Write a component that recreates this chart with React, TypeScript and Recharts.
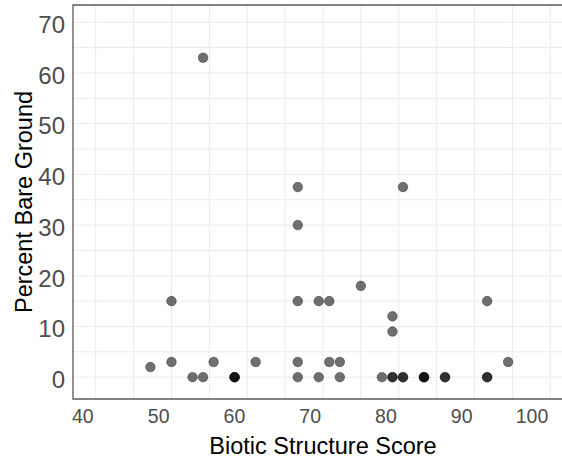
import React from "react";
import {
  ScatterChart,
  Scatter,
  XAxis,
  YAxis,
  CartesianGrid,
  ReferenceArea,
} from "recharts";

// Biotic Structure Score (x) and Percent Bare Ground (y), one entry per plotted point
const scoreValues = [
  47.22, 50.0, 50.0, 52.78, 54.17, 54.17, 55.56, 58.33, 58.33, 58.33, 61.11,
  66.67, 66.67, 66.67, 66.67, 66.67, 69.44, 69.44, 70.83, 70.83, 72.22, 72.22,
  75.0, 77.78, 79.17, 79.17, 79.17, 79.17, 80.56, 80.56, 80.56, 83.33, 83.33,
  83.33, 86.11, 86.11, 91.67, 91.67, 91.67, 94.44,
];
const bareGroundValues = [
  2, 15, 3, 0, 0, 63, 3, 0, 0, 0, 3,
  37.5, 30, 15, 3, 0, 15, 0, 15, 3, 3, 0,
  18, 0, 12, 9, 0, 0, 37.5, 0, 0, 0, 0,
  0, 0, 0, 15, 0, 0, 3,
];

const xTicks = [40, 50, 60, 70, 80, 90, 100];
const yTicks = [0, 10, 20, 30, 40, 50, 60, 70];
const xGrid = [40, 45, 50, 55, 60, 65, 70, 75, 80, 85, 90, 95, 100];
const yGrid = [0, 5, 10, 15, 20, 25, 30, 35, 40, 45, 50, 55, 60, 65, 70];

const xTitle = "Biotic Structure Score";
const yTitle = "Percent Bare Ground";

const data = scoreValues.map((x, i) => ({ x, y: bareGroundValues[i] }));

const FONT = "'Liberation Sans', Arial, Helvetica, sans-serif";

const XTick = (props: any) => {
  const { x, payload } = props;
  return (
    <text
      x={x - 2}
      y={423}
      textAnchor="end"
      fontSize={19.5}
      fontFamily={FONT}
      fill="#4d4d4d"
    >
      {payload.value}
    </text>
  );
};

const YTick = (props: any) => {
  const { y, payload } = props;
  return (
    <text
      x={65}
      y={y + 10.8}
      textAnchor="end"
      fontSize={24}
      fontFamily={FONT}
      fill="#4d4d4d"
    >
      {payload.value}
    </text>
  );
};

const Dot = (props: any) => {
  const { cx, cy } = props;
  if (cx == null || cy == null) return null;
  return (
    <circle
      cx={cx}
      cy={cy}
      r={4.8}
      fill="#000"
      fillOpacity={0.56}
      stroke="#000"
      strokeOpacity={0.35}
      strokeWidth={1}
    />
  );
};

export default function App() {
  return (
    <div
      style={{
        position: "absolute",
        left: 0,
        top: 0,
        width: 562,
        height: 462,
        overflow: "hidden",
        background: "#fff",
      }}
    >
      <ScatterChart
        width={573}
        height={462}
        margin={{ top: 5, right: 0, bottom: 0, left: 0 }}
      >
        <CartesianGrid
          stroke="#ebebeb"
          strokeWidth={1}
          verticalValues={xGrid}
          horizontalValues={yGrid}
        />
        <XAxis
          type="number"
          dataKey="x"
          domain={[37, 103]}
          ticks={xTicks}
          allowDataOverflow
          height={63}
          axisLine={false}
          tickLine={false}
          tick={<XTick />}
          interval={0}
          label={{
            content: (p: any) => {
              const vb = p.viewBox || {};
              return (
                <text
                  x={vb.x + vb.width / 2}
                  y={454}
                  textAnchor="middle"
                  fontSize={23.5}
                  fontFamily={FONT}
                  fill="#000"
                >
                  {xTitle}
                </text>
              );
            },
          }}
        />
        <YAxis
          type="number"
          dataKey="y"
          domain={[-4.3, 73.4]}
          ticks={yTicks}
          allowDataOverflow
          width={73}
          axisLine={false}
          tickLine={false}
          tick={<YTick />}
          interval={0}
          label={{
            content: (p: any) => {
              const vb = p.viewBox || {};
              const cy = vb.y + vb.height / 2;
              return (
                <text
                  x={32}
                  y={cy}
                  transform={`rotate(-90, 32, ${cy})`}
                  textAnchor="middle"
                  fontSize={23.5}
                  fontFamily={FONT}
                  fill="#000"
                >
                  {yTitle}
                </text>
              );
            },
          }}
        />
        <ReferenceArea
          x1={37}
          x2={103}
          y1={-4.3}
          y2={73.4}
          fill="none"
          stroke="#595959"
          strokeWidth={1.3}
          ifOverflow="visible"
        />
        <Scatter data={data} shape={<Dot />} isAnimationActive={false} />
      </ScatterChart>
    </div>
  );
}
